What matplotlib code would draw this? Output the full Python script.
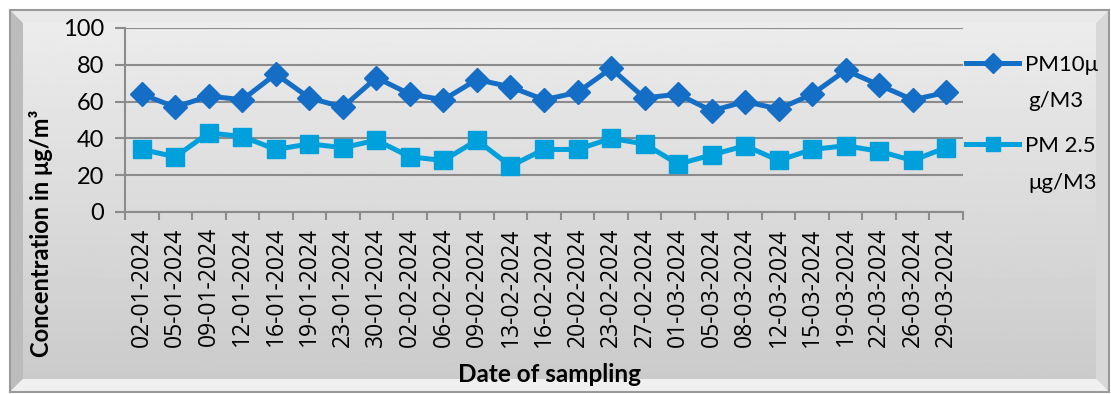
import matplotlib
matplotlib.use('Agg')
import matplotlib.pyplot as plt
import matplotlib.patches as patches
import numpy as np

dates = ['02-01-2024', '05-01-2024', '09-01-2024', '12-01-2024', '16-01-2024',
         '19-01-2024', '23-01-2024', '30-01-2024', '02-02-2024', '06-02-2024',
         '09-02-2024', '13-02-2024', '16-02-2024', '20-02-2024', '23-02-2024',
         '27-02-2024', '01-03-2024', '05-03-2024', '08-03-2024', '12-03-2024',
         '15-03-2024', '19-03-2024', '22-03-2024', '26-03-2024', '29-03-2024']
pm10 = [64, 57, 63, 61, 75, 62, 57, 73, 64, 61, 72, 68, 61, 65, 78,
        62, 64, 55, 60, 56, 64, 77, 69, 61, 65]
pm25 = [34, 30, 43, 41, 34, 37, 35, 39, 30, 28, 39, 25, 34, 34, 40,
        37, 26, 31, 36, 28, 34, 36, 33, 28, 35]
names = ['PM10μ', 'PM 2.5']
units = ['g/M3', 'μg/M3']

W, H = 1111, 394
plt.rcParams['font.family'] = ['Lato', 'DejaVu Sans']
fig = plt.figure(figsize=(W / 100, H / 100), dpi=100)

# bevelled grey panel behind the chart
bg = fig.add_axes([0, 0, 1, 1], zorder=-5)
bg.set_xlim(0, W); bg.set_ylim(H, 0); bg.axis('off')
x0, y0, x1, y1, b = 10, 10, 1109, 392, 13
grad = np.linspace(0.925, 0.795, 200)[:, None] * np.ones((1, 2))
bg.imshow(grad, cmap='gray', vmin=0, vmax=1, aspect='auto',
          extent=(x0 + b, x1 - b, y1 - b, y0 + b))
bevels = [
    ([(x0, y0), (x1, y0), (x1 - b, y0 + b), (x0 + b, y0 + b)], '#e9e9e9'),
    ([(x0, y0), (x0 + b, y0 + b), (x0 + b, y1 - b), (x0, y1)], '#bcbcbc'),
    ([(x1, y0), (x1, y1), (x1 - b, y1 - b), (x1 - b, y0 + b)], '#d8d8d8'),
    ([(x0, y1), (x0 + b, y1 - b), (x1 - b, y1 - b), (x1, y1)], '#f0f0f0'),
]
for pts, c in bevels:
    bg.add_patch(patches.Polygon(pts, closed=True, facecolor=c, edgecolor='none'))
bg.add_patch(patches.Rectangle((x0, y0), x1 - x0, y1 - y0, fill=False,
                               edgecolor='#9a9a9a', lw=1.5))

ax = fig.add_axes([125 / W, 1 - 212 / H, (963 - 125) / W, (212 - 28) / H])
ax.patch.set_alpha(0)
x = np.arange(len(dates))
ax.plot(x, pm10, color='#156ec6', lw=3.6, marker='D', ms=12.5, label=names[0], zorder=3)
ax.plot(x, pm25, color='#00a0dc', lw=3.6, marker='s', ms=13, label=names[1], zorder=3)

ax.set_xlim(-0.5, len(dates) - 0.5)
ax.set_ylim(0, 100)
ax.set_yticks(range(0, 101, 20))
ax.yaxis.grid(True, color='#8c8c8c', lw=1.5)
ax.set_axisbelow(True)
for s in ['top', 'right']:
    ax.spines[s].set_visible(False)
for s in ['left', 'bottom']:
    ax.spines[s].set_color('#8c8c8c')
    ax.spines[s].set_linewidth(1.5)
ax.set_xticks(x)
ax.set_xticklabels(dates, rotation=90, fontsize=16.5, family=['Open Sans', 'DejaVu Sans'])
ax.set_xticks(np.arange(-0.5, len(dates)), minor=True)
ax.tick_params(axis='x', which='major', length=0, pad=11)
ax.tick_params(axis='x', which='minor', length=6, width=1.5, color='#8c8c8c')
ax.tick_params(axis='y', length=7, width=1.5, color='#8c8c8c', labelsize=17, pad=8)

fig.text(550 / W, 1 - 374 / H, 'Date of sampling', ha='center', va='center',
         fontsize=17.5, fontweight='bold')
fig.text(41 / W, 1 - 233 / H, 'Concentration in μg/m³', ha='center', va='center',
         rotation=90, fontsize=17, fontweight='bold')

# legend: handle plus first line, unit on the line below
ax.legend(loc='upper left', bbox_to_anchor=(966 / W, 1 - 55 / H),
          bbox_transform=fig.transFigure, frameon=False, fontsize=16,
          handlelength=2.4, handletextpad=0.25, labelspacing=2.75,
          borderaxespad=0, borderpad=0, markerscale=0.8)
for i, u in enumerate(units):
    fig.text(1028 / W, 1 - (101 + 82 * i) / H, u, ha='left', va='center', fontsize=16)

fig.savefig('out.png', dpi=100)
